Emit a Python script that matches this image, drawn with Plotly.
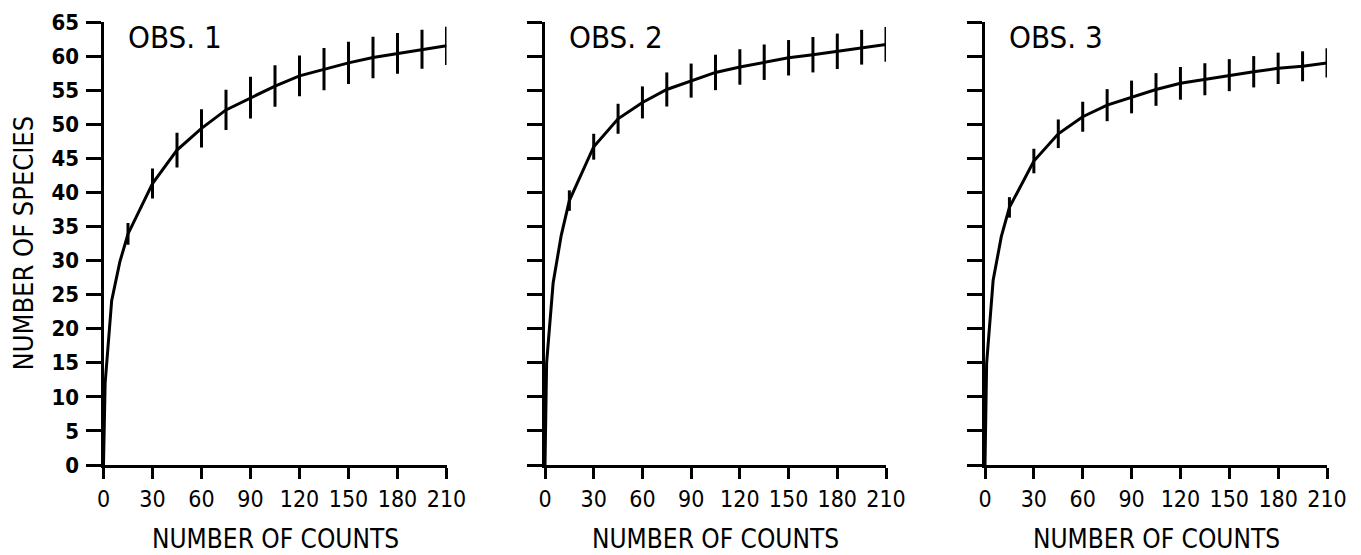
import plotly.graph_objects as go

# ---- data ----
counts = [0, 1, 5, 10, 15, 30, 45, 60, 75, 90, 105, 120, 135, 150, 165, 180, 195, 210]

obs1_species = [0, 12, 24.1, 29.8, 33.9, 41.3, 46.2, 49.4, 52.1, 53.9, 55.6, 57.1, 58.1, 59.0, 59.8, 60.4, 61.0, 61.5]
obs1_err = [0, 0, 0, 0, 1.6, 2.2, 2.55, 2.8, 2.95, 3.05, 3.05, 3.0, 3.1, 3.1, 3.05, 3.0, 2.85, 2.8]

obs2_species = [0, 15, 26.7, 33.7, 38.8, 46.7, 50.8, 53.2, 55.1, 56.4, 57.6, 58.4, 59.1, 59.75, 60.2, 60.7, 61.3, 61.7]
obs2_err = [0, 0, 0, 0, 1.5, 1.9, 2.2, 2.35, 2.5, 2.5, 2.6, 2.6, 2.6, 2.6, 2.6, 2.6, 2.55, 2.55]

obs3_species = [0, 14.9, 27.1, 33.5, 37.8, 44.6, 48.6, 51.1, 52.8, 54.0, 55.1, 56.0, 56.6, 57.2, 57.7, 58.2, 58.5, 59.0]
obs3_err = [0, 0, 0, 0, 1.5, 1.8, 2.1, 2.2, 2.35, 2.4, 2.4, 2.4, 2.35, 2.35, 2.3, 2.3, 2.2, 2.15]

panel_titles = ["OBS. 1", "OBS. 2", "OBS. 3"]
x_ticks = [0, 30, 60, 90, 120, 150, 180, 210]
y_ticks = list(range(0, 70, 5))
x_title = "NUMBER OF COUNTS"
y_title = "NUMBER OF SPECIES"

series = [(obs1_species, obs1_err), (obs2_species, obs2_err), (obs3_species, obs3_err)]

W, H = 1361, 555


def px_x(sx):
    return sx / W


def px_y(sy):
    return (H - sy) / H


x_domains = [[px_x(103.5), px_x(446.5)], [px_x(545), px_x(886)], [px_x(985), px_x(1327)]]
y_domain = [px_y(465), px_y(22)]

COND = "DejaVu Sans Condensed, DejaVu Sans, sans-serif"
INK = "black"

fig = go.Figure()
for i, (vals, errs) in enumerate(series):
    sfx = "" if i == 0 else str(i + 1)
    fig.add_trace(go.Scatter(
        x=counts, y=vals, mode="lines",
        line=dict(color=INK, width=3),
        error_y=dict(type="data", array=errs, visible=True, color=INK, thickness=3, width=0),
        xaxis="x" + sfx, yaxis="y" + sfx, showlegend=False, hoverinfo="skip",
    ))

layout = dict(
    width=W, height=H,
    margin=dict(l=0, r=0, t=0, b=0),
    paper_bgcolor="white", plot_bgcolor="white",
    template="none",
    showlegend=False,
)
annotations = []
for i in range(3):
    sfx = "" if i == 0 else str(i + 1)
    layout["xaxis" + sfx] = dict(
        domain=x_domains[i], range=[0, 210], anchor="y" + sfx,
        tickmode="array", tickvals=x_ticks, ticktext=[str(v) for v in x_ticks],
        ticks="outside", ticklen=11, tickwidth=3, tickcolor=INK,
        showline=True, linewidth=3, linecolor=INK, showgrid=False, zeroline=False,
        tickfont=dict(family=COND, size=23, color=INK),
        ticklabelstandoff=0, automargin=False, fixedrange=True,
    )
    layout["yaxis" + sfx] = dict(
        domain=y_domain, range=[0, 65], anchor="x" + sfx,
        tickmode="array", tickvals=y_ticks, ticktext=[str(v) for v in y_ticks],
        showticklabels=(i == 0),
        ticks="outside", ticklen=15, tickwidth=3, tickcolor=INK,
        showline=True, linewidth=3, linecolor=INK, showgrid=False, zeroline=False,
        tickfont=dict(family=COND, size=22, color=INK, weight="bold"),
        ticklabelstandoff=2, automargin=False, fixedrange=True,
    )
    annotations.append(dict(
        text=panel_titles[i], xref="paper", yref="paper",
        x=x_domains[i][0] + 22 / W, y=px_y(36.5),
        xanchor="left", yanchor="middle",
        showarrow=False, font=dict(family=COND, size=31, color=INK),
    ))
    annotations.append(dict(
        text=x_title, xref="paper", yref="paper",
        x=(x_domains[i][0] + x_domains[i][1]) / 2, y=px_y(539),
        xanchor="center", yanchor="middle",
        showarrow=False, font=dict(family=COND, size=26, color=INK),
    ))
annotations.append(dict(
    text=y_title, xref="paper", yref="paper", x=px_x(23), y=px_y(243.5),
    xanchor="center", yanchor="middle", textangle=-90,
    showarrow=False, font=dict(family=COND, size=27, color=INK),
))
layout["annotations"] = annotations
fig.update_layout(**layout)

# remove the browser's default 8px body margin so the 1361x555 figure fills the window
fig.write_html(
    "out.html",
    config={"displayModeBar": False, "staticPlot": True},
    post_script="document.body.style.margin='0';",
)
